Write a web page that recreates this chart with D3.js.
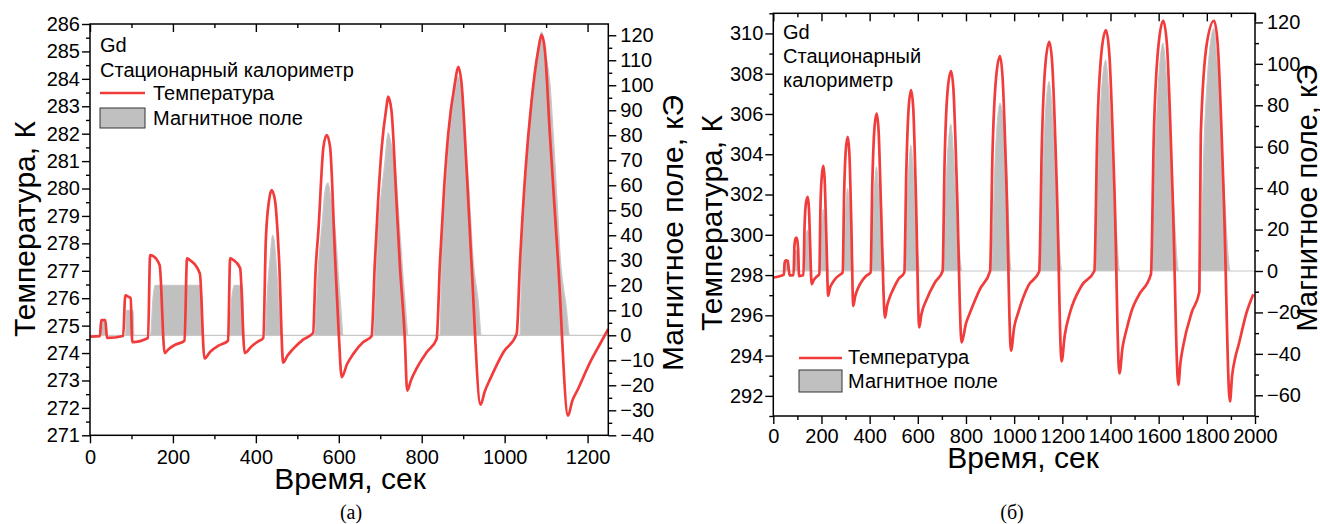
<!DOCTYPE html>
<html><head><meta charset="utf-8">
<script src="https://cdn.jsdelivr.net/npm/d3@7"></script>
<style>
body{margin:0;background:#fff}
svg text{font-family:"Liberation Sans",Arial,sans-serif;fill:#000}
</style>
</head><body>
<svg id="c" width="1320" height="524"></svg>
<script>
// ---------- DATA: chart (a) ----------
const tempA = [
 [0,274.6],[24,274.62],[27,275.2],[37,275.2],[41,274.55],[80,274.62],[85,276.1],[93,276.05],[98,276.0],[102,274.4],
 [140,274.55],[145,277.57],[151,277.55],[168,277.2],[180,274.0],[190,274.15],[205,274.3],[228,274.45],
 [234,277.45],[240,277.4],[265,276.9],[276,273.8],[290,274.05],[310,274.27],[333,274.45],
 [338,277.45],[345,277.4],[362,277.1],[373,274.0],[390,274.25],[405,274.42],[418,274.55],
 [424,278.1],[432,279.58],[438,279.94],[446,279.58],[456,277.4],[466,273.65],
 [476,273.9],[490,274.15],[514,274.49],[538,274.73],
 [544,277.0],[551,278.5],[563,281.52],[571,281.95],[579,281.52],[591,277.5],[600,274.7],[607,273.12],
 [620,273.6],[635,273.97],[659,274.4],[679,274.61],
 [687,277.3],[695,279.6],[703,281.4],[715,282.98],[719,283.35],[727,282.85],[739,279.58],[747,277.3],[759,274.6],[765,272.63],
 [774,273.0],[787,273.42],[812,274.03],[836,274.51],
 [844,277.3],[854,280.0],[864,282.0],[880,283.84],[888,284.44],[896,283.84],[908,280.8],[920,277.3],[942,272.12],
 [952,272.6],[965,273.05],[997,274.03],[1029,274.7],
 [1037,277.3],[1050,280.6],[1065,283.2],[1081,285.05],[1089,285.6],[1097,285.05],[1109,282.0],[1129,277.3],[1153,271.72],
 [1163,272.25],[1177,272.69],[1206,273.66],[1230,274.33],[1250,274.88]
];
const fieldA = [
 [0,0],[26,0],[28,6],[37,6],[39,0],[86,0],[88,10],[104,10],[106,0],
 [146,0],[152,15],[157,20],[268,20],[272,0],
 [335,0],[342,15],[348,20],[368,20],[371,0],
 [422,0],[428,18],[435,32],[440,40],[444,38],[452,22],[462,0],
 [541,0],[551,28],[560,45],[567,58],[574,61],[580,56],[591,42],[603,15],[611,0],
 [683,0],[695,42],[711,69],[719,81],[727,76],[735,69],[747,42],[759,15],[768,0],
 [844,0],[848,29],[858,58],[868,81],[880,97],[888,103.5],[896,96],[904,81],[914,58],[924,30],[936,14],[944,0],
 [1037,0],[1041,29],[1049,55],[1057,81],[1069,101],[1080,114],[1089,121.4],[1098,113],[1109,101],[1117,81],[1126,55],[1135,29],[1148,12],[1157,0],
 [1250,0]
];
const xTicksA = [0,200,400,600,800,1000,1200];
const tTicksA = [271,272,273,274,275,276,277,278,279,280,281,282,283,284,285,286];
const hTicksA = [-40,-30,-20,-10,0,10,20,30,40,50,60,70,80,90,100,110,120];

// ---------- DATA: chart (б) ----------
const tempB = [
 [0,297.88],[44,298.02],[47,298.6],[52,298.73],[60,298.7],[64,298.3],[68,297.98],[84,298.0],[88,299.5],[93,299.85],[98,299.85],[103,299.3],[107,297.95],
 [125,298.0],[130,300.5],[136,301.6],[143,301.88],[148,301.3],[153,299.5],[159,297.55],[168,297.75],[178,297.9],[191,298.05],
 [196,301.5],[202,303.0],[208,303.42],[213,302.8],[220,300.0],[228,296.97],[235,297.35],[245,297.6],[260,297.85],[275,298.0],[288,298.13],
 [294,302.0],[301,304.2],[309,304.86],[316,304.0],[324,300.5],[332,296.47],[340,296.95],[352,297.35],[368,297.7],[385,297.95],[404,298.13],
 [411,302.5],[420,305.3],[429,306.02],[437,305.2],[447,301.5],[464,295.89],[472,296.45],[485,296.95],[500,297.35],[520,297.8],[544,298.13],
 [552,303.0],[562,306.3],[572,307.18],[581,306.3],[592,302.0],[606,295.4],[615,296.05],[637,296.8],[671,297.63],[703,298.2],
 [711,303.5],[724,307.2],[738,308.13],[748,307.2],[762,302.5],[782,294.65],[800,295.6],[817,296.14],[858,297.3],[900,298.2],
 [910,304.0],[925,307.8],[941,308.87],[952,307.8],[968,302.5],[987,294.24],[1000,295.4],[1017,296.14],[1059,297.47],[1104,298.18],
 [1115,304.5],[1130,308.5],[1146,309.58],[1158,308.5],[1178,302.0],[1197,293.71],[1210,295.0],[1232,296.14],[1280,297.47],[1333,298.2],
 [1345,305.0],[1362,309.0],[1381,310.16],[1395,309.0],[1417,302.0],[1437,293.11],[1450,294.4],[1467,295.31],[1490,296.3],[1516,296.97],[1568,298.05],
 [1580,305.0],[1600,309.5],[1619,310.63],[1634,309.5],[1658,302.0],[1682,292.55],[1690,293.6],[1702,294.49],[1737,296.14],[1769,297.17],
 [1775,305.0],[1800,309.5],[1830,310.63],[1845,309.5],[1870,302.0],[1896,291.72],[1905,293.0],[1918,293.9],[1931,294.49],[1965,296.14],[1993,297.05]
];
const fieldB = [
 [0,0],[43,0],[46,5],[62,5],[65,0],[85,0],[88,10],[103,10],[106,0],
 [126,0],[133,12],[141,19.8],[146,18],[153,8],[160,0],
 [192,0],[199,18],[207,29.9],[212,26],[220,12],[230,0],
 [290,0],[298,22],[308,39.9],[314,34],[323,16],[334,0],
 [406,0],[415,28],[428,50.3],[435,43],[448,20],[466,0],
 [546,0],[556,33],[571,60.8],[579,52],[592,24],[608,0],
 [705,0],[717,40],[737,70.9],[746,60],[762,28],[784,0],
 [903,0],[907,4.5],[920,50],[941,80.9],[969,50],[983,4.5],[989,0],
 [1106,0],[1120,52],[1145,91.4],[1156,80],[1176,36],[1199,0],
 [1335,0],[1350,58],[1380,101.8],[1392,88],[1415,40],[1439,0],
 [1570,0],[1587,62],[1618,110],[1631,96],[1656,44],[1684,0],
 [1771,0],[1790,66],[1829,117],[1842,102],[1868,46],[1898,0],[2000,0]
];
const xTicksB = [0,200,400,600,800,1000,1200,1400,1600,1800,2000];
const tTicksB = [292,294,296,298,300,302,304,306,308,310];
const hTicksB = [-60,-40,-20,0,20,40,60,80,100,120];

const RED = "#f23c3c", GRAY = "#c0c0c0";
const svg = d3.select("#c");

function range(a,b,s){const r=[];for(let v=a;v<=b+1e-9;v+=s)r.push(+v.toFixed(6));return r;}

function chart(o){
  const g = svg.append("g");
  const x = d3.scaleLinear().domain(o.xDom).range([o.L,o.R]);
  const yT = d3.scaleLinear().domain(o.tDom).range([o.B,o.T]);
  const yH = d3.scaleLinear().domain(o.hDom).range([o.B,o.T]);
  const id = "clip"+o.id;
  svg.append("clipPath").attr("id",id).append("rect")
    .attr("x",o.L).attr("y",o.T).attr("width",o.R-o.L).attr("height",o.B-o.T);
  const pg = g.append("g").attr("clip-path",`url(#${id})`);
  pg.append("path").datum(o.field)
    .attr("d", d3.area().curve(d3.curveMonotoneX).x(d=>x(d[0])).y0(yH(0)).y1(d=>yH(d[1])))
    .attr("fill",GRAY).attr("stroke","#c8c8c8").attr("stroke-width",1.2);
  pg.append("path").datum(o.temp)
    .attr("d", d3.line().curve(d3.curveMonotoneX).x(d=>x(d[0])).y(d=>yT(d[1])))
    .attr("fill","none").attr("stroke",RED).attr("stroke-width",2.7).attr("stroke-linejoin","round");

  const fs = "20px";
  function ax(gen, tr, major, minor, fmt, size, pad){
    const a = g.append("g").attr("transform",tr);
    a.call(gen.tickValues(minor).tickSize(size/2).tickFormat(()=>""));
    a.select(".domain").remove();
    const b = g.append("g").attr("transform",tr);
    b.call(gen.tickValues(major).tickSize(size).tickPadding(pad).tickFormat(fmt));
    b.select(".domain").remove();
    [a,b].forEach(s=>{s.selectAll("line").attr("stroke","#000").attr("stroke-width",1.4);
      s.selectAll("text").style("font-size",fs).attr("font-family",null);});
    return b;
  }
  const f = d3.format("d");
  ax(d3.axisBottom(x), `translate(0,${o.B})`, o.xTicks, o.xMinor, f, 8, o.bPad);
  ax(d3.axisTop(x), `translate(0,${o.T})`, o.xTicks, o.xMinor, ()=>"", -8, 0);
  ax(d3.axisLeft(yT), `translate(${o.L},0)`, o.tTicks, o.tMinor, f, 8, 2);
  ax(d3.axisRight(yH), `translate(${o.R},0)`, o.hTicks, o.hMinor, f, 8, 4);
  g.append("rect").attr("x",o.L).attr("y",o.T).attr("width",o.R-o.L).attr("height",o.B-o.T)
    .attr("fill","none").attr("stroke","#000").attr("stroke-width",1.5);
  return g;
}

chart({id:"A", L:90, R:608.3, T:24, B:435.3,
  xDom:[0,1250], tDom:[271,286], hDom:[-40,124.5],
  temp:tempA, field:fieldA,
  xTicks:xTicksA, xMinor:range(100,1200,200),
  tTicks:tTicksA, tMinor:range(271.5,285.5,1),
  hTicks:hTicksA, hMinor:range(-35,115,10), bPad:7});

chart({id:"B", L:773.3, R:1255, T:13.3, B:416,
  xDom:[0,2000], tDom:[291,311], hDom:[-70,124.4],
  temp:tempB, field:fieldB,
  xTicks:xTicksB, xMinor:range(100,1900,200),
  tTicks:tTicksB, tMinor:range(291,311,2),
  hTicks:hTicksB, hMinor:range(-70,110,20), bPad:5});

function txt(x,y,s,size,opt={}){
  const t = svg.append("text").attr("x",x).attr("y",y).text(s).style("font-size",size+"px");
  if(opt.anchor) t.attr("text-anchor",opt.anchor);
  if(opt.rot) t.attr("transform",`rotate(-90,${x},${y})`);
  if(opt.serif) t.style("font-family","'Liberation Serif','Times New Roman',serif");
  return t;
}
// legend A
txt(100,52,"Gd",20);
txt(100,77,"Стационарный калориметр",20);
svg.append("line").attr("x1",100).attr("x2",145).attr("y1",93).attr("y2",93).attr("stroke",RED).attr("stroke-width",2.7);
txt(153,100,"Температура",20);
svg.append("rect").attr("x",100).attr("y",108).attr("width",45).attr("height",20).attr("fill",GRAY).attr("stroke","#333").attr("stroke-width",1);
txt(153,125,"Магнитное поле",20);
// titles A
txt(35,229,"Температура, К",30,{anchor:"middle",rot:true});
txt(683,233,"Магнитное поле, кЭ",30,{anchor:"middle",rot:true});
txt(350,489,"Время, сек",30,{anchor:"middle"});
txt(351,519,"(a)",20,{anchor:"middle",serif:true});

// legend B
txt(783,39,"Gd",20);
txt(783,63,"Стационарный",20);
txt(783,87,"калориметр",20);
svg.append("line").attr("x1",799).attr("x2",842).attr("y1",358).attr("y2",358).attr("stroke",RED).attr("stroke-width",2.7);
txt(848,364,"Температура",20);
svg.append("rect").attr("x",799).attr("y",370).attr("width",43).attr("height",22).attr("fill",GRAY).attr("stroke","#333").attr("stroke-width",1);
txt(848,388,"Магнитное поле",20);
// titles B
txt(722,223,"Температура, К",30,{anchor:"middle",rot:true});
txt(1317,198,"Магнитное поле, кЭ",29,{anchor:"middle",rot:true});
txt(1023,468,"Время, сек",30,{anchor:"middle"});
txt(1012,519,"(б)",20,{anchor:"middle",serif:true});
</script>
</body></html>
